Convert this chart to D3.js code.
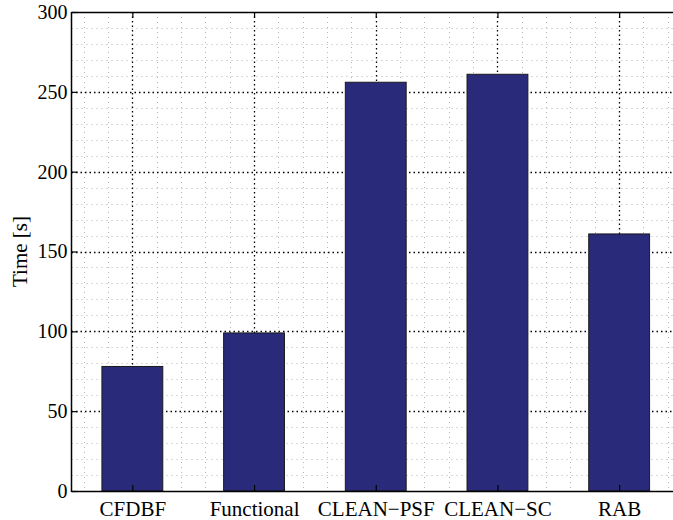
<!DOCTYPE html>
<html>
<head>
<meta charset="utf-8">
<script src="https://cdn.jsdelivr.net/npm/d3@7"></script>
<style>
  html, body { margin: 0; padding: 0; background: #fff; }
  svg { display: block; }
  text { font-family: "Liberation Serif", "Times New Roman", serif; fill: #000; }
</style>
</head>
<body>
<svg id="chart" width="673" height="520"></svg>
<script>
// Processing time per beamforming method
const categories = ["CFDBF", "Functional", "CLEAN\u2212PSF", "CLEAN\u2212SC", "RAB"];
const times = [78, 99, 256, 261, 161];
const yTicks = [0, 50, 100, 150, 200, 250, 300];
const yLabel = "Time [s]";

const svg = d3.select("#chart");
const plot = { left: 71.5, right: 680, top: 12, bottom: 491 };

const positions = categories.map((_, i) => i + 1);
const x = d3.scaleLinear().domain([0.5, categories.length + 0.5]).range([plot.left, plot.right]);
const y = d3.scaleLinear().domain([0, 300]).range([plot.bottom, plot.top]);

const g = svg.append("g");

// minor grid
const minorY = d3.range(10, 300, 10).filter(v => v % 50 !== 0);
const minorX = d3.range(0.6, categories.length + 0.5, 0.2)
  .map(v => Math.round(v * 10) / 10)
  .filter(v => Math.abs(v - Math.round(v)) > 1e-6);

g.selectAll("line.minor-y").data(minorY).join("line")
  .attr("x1", plot.left).attr("x2", plot.right)
  .attr("y1", d => Math.round(y(d)) + 0.5).attr("y2", d => Math.round(y(d)) + 0.5)
  .attr("stroke", "#b4b4b4").attr("stroke-width", 1).attr("stroke-dasharray", "1,4");
g.selectAll("line.minor-x").data(minorX).join("line")
  .attr("y1", plot.top).attr("y2", plot.bottom)
  .attr("x1", d => Math.round(x(d)) + 0.5).attr("x2", d => Math.round(x(d)) + 0.5)
  .attr("stroke", "#b4b4b4").attr("stroke-width", 1).attr("stroke-dasharray", "1,4");

// major grid
g.selectAll("line.major-y").data(yTicks.slice(1, -1)).join("line")
  .attr("x1", plot.left).attr("x2", plot.right)
  .attr("y1", d => Math.round(y(d)) + 0.5).attr("y2", d => Math.round(y(d)) + 0.5)
  .attr("stroke", "#000").attr("stroke-width", 1.3).attr("stroke-dasharray", "1.5,3");
g.selectAll("line.major-x").data(positions).join("line")
  .attr("y1", plot.top).attr("y2", plot.bottom)
  .attr("x1", d => Math.round(x(d)) + 0.5).attr("x2", d => Math.round(x(d)) + 0.5)
  .attr("stroke", "#000").attr("stroke-width", 1.3).attr("stroke-dasharray", "1.5,3");

// bars
const barW = x(1.25) - x(0.75);
g.selectAll("rect.bar").data(times).join("rect")
  .attr("x", (d, i) => x(positions[i]) - barW / 2)
  .attr("width", barW)
  .attr("y", d => y(d))
  .attr("height", d => y(0) - y(d))
  .attr("fill", "#2a2a7b")
  .attr("stroke", "#1a1a1a")
  .attr("stroke-width", 1);

// axes
const yAxis = d3.axisLeft(y).tickValues(yTicks).tickSize(-6).tickPadding(4).tickFormat(d3.format("d"));
const yAxisG = svg.append("g").attr("transform", `translate(${plot.left},0)`).call(yAxis);
yAxisG.select(".domain").remove();
yAxisG.selectAll(".tick line").attr("stroke", "#000").attr("stroke-width", 1.2);
yAxisG.selectAll(".tick text").attr("font-size", 20);

const xAxis = d3.axisBottom(x).tickValues(positions).tickSize(-6).tickPadding(10)
  .tickFormat(d => categories[d - 1]);
const xAxisG = svg.append("g").attr("transform", `translate(0,${plot.bottom})`).call(xAxis);
xAxisG.select(".domain").remove();
xAxisG.selectAll(".tick line").attr("stroke", "#000").attr("stroke-width", 1.2);
xAxisG.selectAll(".tick text").attr("font-size", 21);

// top border ticks
const topAxis = d3.axisTop(x).tickValues(positions).tickSize(-6).tickFormat("");
const topG = svg.append("g").attr("transform", `translate(0,${plot.top})`).call(topAxis);
topG.select(".domain").remove();
topG.selectAll(".tick line").attr("stroke", "#000").attr("stroke-width", 1.2);

// frame lines
svg.append("line").attr("x1", plot.left).attr("x2", plot.left)
  .attr("y1", plot.top).attr("y2", plot.bottom + 1)
  .attr("stroke", "#000").attr("stroke-width", 1.5);
svg.append("line").attr("x1", plot.left).attr("x2", plot.right)
  .attr("y1", plot.bottom + 0.5).attr("y2", plot.bottom + 0.5)
  .attr("stroke", "#000").attr("stroke-width", 1.5);
svg.append("line").attr("x1", plot.left).attr("x2", plot.right)
  .attr("y1", plot.top + 0.5).attr("y2", plot.top + 0.5)
  .attr("stroke", "#000").attr("stroke-width", 1.5);

// y label
svg.append("text")
  .attr("transform", `translate(27,${(plot.top + plot.bottom) / 2}) rotate(-90)`)
  .attr("text-anchor", "middle")
  .attr("font-size", 21)
  .text(yLabel);
</script>
</body>
</html>
